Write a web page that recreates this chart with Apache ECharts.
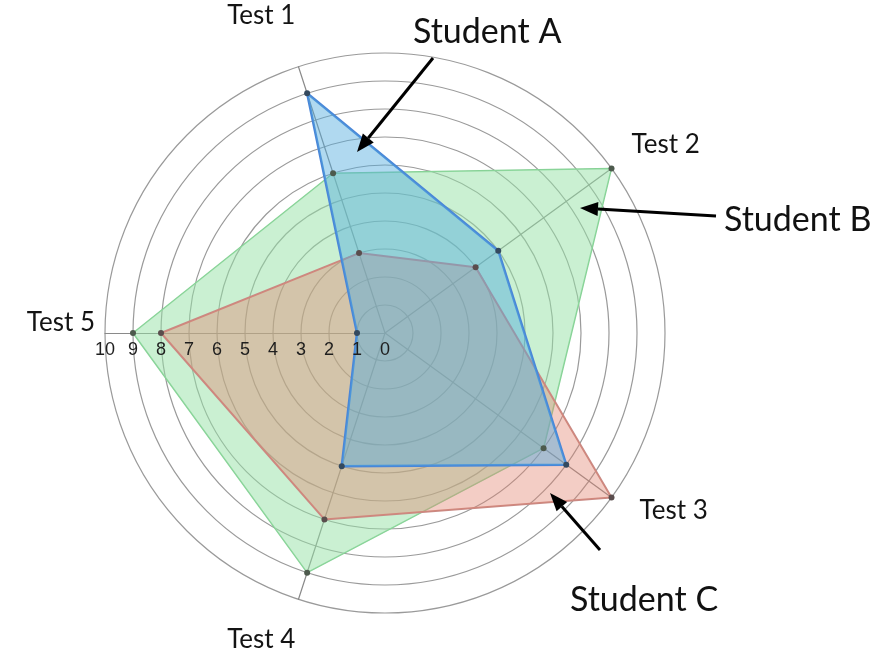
<!DOCTYPE html>
<html>
<head>
<meta charset="utf-8">
<script src="https://cdn.jsdelivr.net/npm/echarts@6/dist/echarts.min.js"></script>
<style>
  html, body { margin: 0; padding: 0; background: #fff; }
  #chart { width: 884px; height: 657px; }
</style>
</head>
<body>
<div id="chart"></div>
<script>
// tests in natural order, values per student
const tests = ['Test 1', 'Test 2', 'Test 3', 'Test 4', 'Test 5']
const studentA = [9, 5, 8, 5, 1]
const studentB = [6, 10, 7, 9, 9]
const studentC = [3, 4, 10, 7, 8]
const scoreMax = 10

// radar goes counterclockwise from startAngle, picture goes clockwise
const order = [0, 4, 3, 2, 1]
const pick = arr => order.map(i => arr[i])

// nudge each axis name a bit, like in the picture
const namePad = {
  'Test 1': [0, 0, 84, 0],
  'Test 2': [0, 0, 36, 12],
  'Test 3': [14, 0, 0, 20],
  'Test 4': [62, 0, 0, 0],
  'Test 5': [0, 0, 20, 0]
}
const rich = {}
tests.forEach((t, i) => {
  rich['t' + i] = { padding: namePad[t], color: '#141414', fontFamily: 'Lato', fontSize: 26 }
})

const chart = echarts.init(document.getElementById('chart'))

// arrow = line + filled head
function arrow(x1, y1, x2, y2) {
  const a = Math.atan2(y2 - y1, x2 - x1)
  const len = 18
  const w = 7
  const bx = x2 - len * Math.cos(a)
  const by = y2 - len * Math.sin(a)
  return [
    {
      type: 'line',
      z: 100,
      shape: { x1: x1, y1: y1, x2: bx, y2: by },
      style: { stroke: '#000', lineWidth: 3 }
    },
    {
      type: 'polygon',
      z: 100,
      shape: {
        points: [
          [x2, y2],
          [bx + w * Math.sin(a), by - w * Math.cos(a)],
          [bx - w * Math.sin(a), by + w * Math.cos(a)]
        ]
      },
      style: { fill: '#000' }
    }
  ]
}

function label(text, x, y) {
  return {
    type: 'text',
    z: 100,
    x: x,
    y: y,
    style: {
      text: text,
      font: '34px Lato',
      fill: '#111',
      textAlign: 'left',
      textVerticalAlign: 'middle'
    }
  }
}

const option = {
  backgroundColor: '#fff',
  radar: {
    center: [385, 333],
    radius: 280,
    startAngle: 108,
    shape: 'circle',
    splitNumber: 10,
    indicator: pick(tests).map(n => ({ name: n, min: 0, max: scoreMax })),
    nameGap: 10,
    axisName: {
      color: '#141414',
      fontFamily: 'Lato',
      fontSize: 26,
      formatter: name => '{t' + tests.indexOf(name) + '|' + name + '}',
      rich: rich
    },
    axisLine: { lineStyle: { color: '#8a8a8a', width: 1.2 } },
    splitLine: { lineStyle: { color: '#9a9a9a', width: 1.2 } },
    splitArea: { show: false },
    axisTick: { show: false },
    axisLabel: { show: false }
  },
  // only here for the 0..10 scale printed under the Test 5 axis
  polar: { center: [385, 333], radius: 280 },
  angleAxis: { type: 'value', startAngle: 180, min: 0, max: 360, show: false },
  radiusAxis: {
    z: 10,
    min: 0,
    max: scoreMax,
    interval: 1,
    axisLine: { show: false },
    axisTick: { show: false },
    splitLine: { show: false },
    axisLabel: {
      color: '#1e1e1e',
      fontFamily: 'Liberation Sans',
      fontSize: 18,
      margin: 8
    }
  },
  series: [
    {
      type: 'radar',
      symbol: 'circle',
      symbolSize: 6,
      data: [
        {
          name: 'Student B',
          value: pick(studentB),
          itemStyle: { color: '#4d5a4d' },
          lineStyle: { color: '#86d095', width: 1.5 },
          areaStyle: { color: 'rgba(150,225,165,0.5)', opacity: 1 }
        },
        {
          name: 'Student C',
          value: pick(studentC),
          itemStyle: { color: '#5a4d4d' },
          lineStyle: { color: '#c98a84', width: 2 },
          areaStyle: { color: 'rgba(225,130,110,0.4)', opacity: 1 }
        },
        {
          name: 'Student A',
          value: pick(studentA),
          itemStyle: { color: '#34495e' },
          lineStyle: { color: '#4a86d8', width: 2.5 },
          areaStyle: { color: 'rgba(80,170,222,0.45)', opacity: 1 }
        }
      ]
    }
  ],
  graphic: [
    label('Student A', 413, 32),
    label('Student B', 724, 220),
    label('Student C', 570, 600)
  ]
    .concat(arrow(433, 58, 357, 152))
    .concat(arrow(716, 216, 580, 208))
    .concat(arrow(600, 550, 550, 493))
}

chart.setOption(option)
</script>
</body>
</html>
